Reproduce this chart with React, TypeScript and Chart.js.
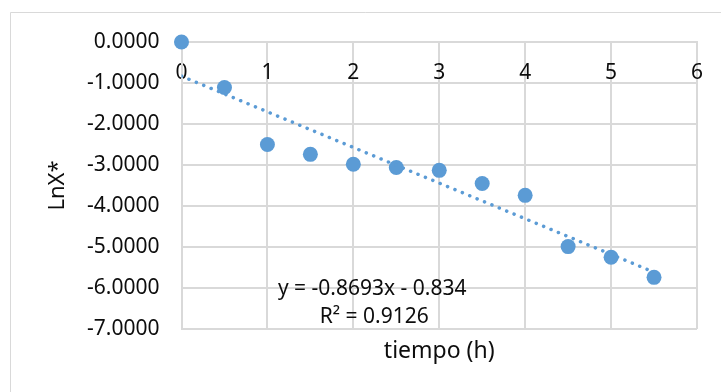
import React, { useEffect, useRef } from "react";
import { Chart, registerables } from "chart.js";

Chart.register(...registerables);

// ---- data ----
const tiempo = [0, 0.5, 1, 1.5, 2, 2.5, 3, 3.5, 4, 4.5, 5, 5.5];
const lnX = [0, -1.11, -2.5, -2.74, -2.98, -3.06, -3.13, -3.45, -3.74, -4.99, -5.25, -5.74];
const xRange = [0, 6];
const yRange = [-7, 0];
const xTitle = "tiempo (h)";
const yTitle = "LnX*";
const trendText = ["y = -0.8693x - 0.834", "R² = 0.9126"];
const trendLabelAt = [2.22, -6.0];

const FONT = "'Noto Sans', sans-serif";
const TEXT = "#0d0d0d";
const GRID = "#d9d9d9";
const BLUE = "#5b9bd5";

function linearFit(xs: number[], ys: number[]) {
  const n = xs.length;
  const mx = xs.reduce((a, b) => a + b, 0) / n;
  const my = ys.reduce((a, b) => a + b, 0) / n;
  let sxy = 0;
  let sxx = 0;
  for (let i = 0; i < n; i++) {
    sxy += (xs[i] - mx) * (ys[i] - my);
    sxx += (xs[i] - mx) * (xs[i] - mx);
  }
  const m = sxy / sxx;
  return { m, b: my - m * mx };
}

export default function App() {
  const ref = useRef<HTMLCanvasElement | null>(null);

  useEffect(() => {
    if (!ref.current) return;
    const fit = linearFit(tiempo, lnX);
    const x0 = Math.min(...tiempo);
    const x1 = Math.max(...tiempo);
    const trend = [
      { x: x0, y: fit.m * x0 + fit.b },
      { x: x1, y: fit.m * x1 + fit.b },
    ];

    const extras = {
      id: "extras",
      beforeDraw(chart: any) {
        const ctx = chart.ctx;
        ctx.save();
        ctx.fillStyle = "#ffffff";
        ctx.fillRect(0, 0, chart.width, chart.height);
        ctx.strokeStyle = GRID;
        ctx.lineWidth = 1;
        ctx.beginPath();
        ctx.moveTo(10.5, chart.height);
        ctx.lineTo(10.5, 12.5);
        ctx.lineTo(chart.width, 12.5);
        ctx.stroke();
        ctx.restore();
      },
      afterDraw(chart: any) {
        const ctx = chart.ctx;
        const xs = chart.scales.x;
        const ys = chart.scales.y;
        const px = xs.getPixelForValue(trendLabelAt[0]);
        const py = ys.getPixelForValue(trendLabelAt[1]);
        ctx.save();
        ctx.font = `21px ${FONT}`;
        ctx.fillStyle = TEXT;
        ctx.textAlign = "center";
        ctx.textBaseline = "middle";
        ctx.fillText(trendText[0], px, py + 1);
        ctx.fillText(trendText[1], px + 2, py + 29.5);
        ctx.restore();
      },
    };

    const tickFont = { family: FONT, size: 21 };

    const chart = new Chart(ref.current, {
      type: "scatter",
      data: {
        datasets: [
          {
            label: "trend",
            data: trend,
            showLine: true,
            borderColor: BLUE,
            borderWidth: 3.5,
            borderDash: [0.1, 7.9],
            borderCapStyle: "round",
            pointRadius: 0,
            fill: false,
          } as any,
          {
            label: "LnX*",
            data: tiempo.map((t, i) => ({ x: t, y: lnX[i] })),
            backgroundColor: BLUE,
            borderColor: BLUE,
            borderWidth: 0,
            pointRadius: 7.5,
            clip: false,
          } as any,
        ],
      },
      options: {
        animation: false,
        responsive: false,
        devicePixelRatio: 1,
        layout: { padding: { left: 45, top: 42, right: 22.5, bottom: 0 } },
        plugins: {
          legend: { display: false },
          tooltip: { enabled: false },
        },
        scales: {
          x: {
            type: "linear",
            position: { y: 0 } as any,
            min: xRange[0],
            max: xRange[1],
            afterFit: (s: any) => {
              s.height = 0;
            },
            ticks: {
              stepSize: 1,
              padding: 18,
              font: tickFont,
              color: TEXT,
              maxRotation: 0,
              autoSkip: false,
            },
            grid: { color: GRID, lineWidth: 2, drawTicks: false },
            border: { color: GRID, width: 2 },
          },
          x2: {
            type: "linear",
            axis: "x",
            position: "bottom",
            min: xRange[0],
            max: xRange[1],
            afterFit: (s: any) => {
              s.height = 63;
            },
            ticks: { display: false },
            grid: { display: false },
            border: { display: false },
            title: {
              display: true,
              text: xTitle,
              font: { family: FONT, size: 23 },
              color: TEXT,
              padding: { top: 0, bottom: 27 },
            },
          } as any,
          y: {
            type: "linear",
            position: "left",
            min: yRange[0],
            max: yRange[1],
            afterFit: (s: any) => {
              s.width = 136.5;
            },
            ticks: {
              stepSize: 1,
              padding: 22,
              font: tickFont,
              color: TEXT,
              callback: (v: any) => Number(v).toFixed(4),
            },
            grid: { color: GRID, lineWidth: 2, drawTicks: false },
            border: { color: GRID, width: 2 },
            title: {
              display: true,
              text: yTitle,
              font: { family: FONT, size: 22 },
              color: TEXT,
              padding: { top: 0, bottom: 0 },
            },
          },
        },
      } as any,
      plugins: [extras],
    });

    return () => chart.destroy();
  }, []);

  return (
    <div style={{ position: "fixed", left: 0, top: 0, width: 721, height: 392, background: "#fff" }}>
      <canvas ref={ref} width={721} height={392} style={{ display: "block", width: 721, height: 392 }} />
    </div>
  );
}
